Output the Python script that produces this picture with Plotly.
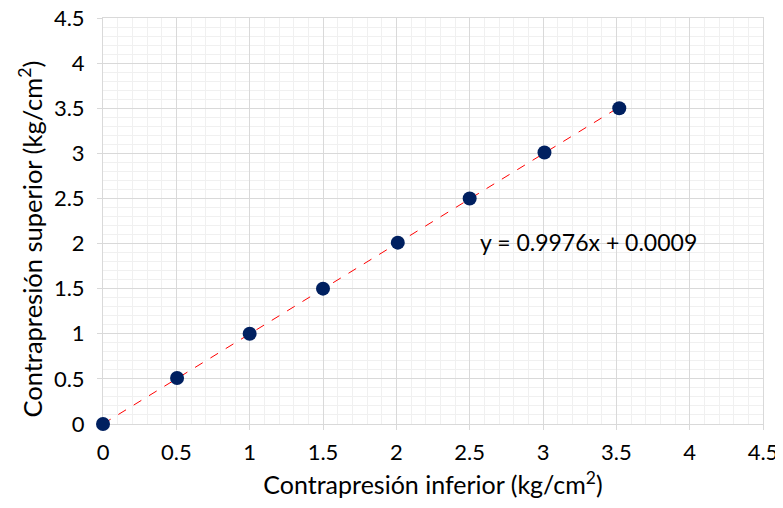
import plotly.graph_objects as go

x_vals = [0.0, 0.505, 1.0, 1.5, 2.01, 2.5, 3.01, 3.52]
y_vals = [0.0, 0.51, 1.0, 1.5, 2.01, 2.5, 3.01, 3.5]
slope = 0.9976
intercept = 0.0009
eq_text = "y = 0.9976x + 0.0009"
x_title = "Contrapresión inferior (kg/cm<sup>2</sup>)"
y_title = "Contrapresión superior (kg/cm<sup>2</sup>)"
tick_vals = [0, 0.5, 1, 1.5, 2, 2.5, 3, 3.5, 4, 4.5]
tick_text = ["0", "0.5", "1", "1.5", "2", "2.5", "3", "3.5", "4", "4.5"]

font_family = "Lato, 'Open Sans', sans-serif"

x_fit = [min(x_vals), max(x_vals)]
y_fit = [slope * v + intercept for v in x_fit]

fig = go.Figure()
fig.add_trace(go.Scatter(x=x_fit, y=y_fit, mode="lines",
                         line=dict(color="#ff0000", width=1, dash="dash"),
                         showlegend=False, hoverinfo="skip", cliponaxis=False))
fig.add_trace(go.Scatter(x=x_vals, y=y_vals, mode="markers",
                         marker=dict(color="#002060", size=14, line=dict(width=0)),
                         showlegend=False, cliponaxis=False))

axis_common = dict(
    range=[0, 4.5], tickvals=tick_vals, ticktext=tick_text,
    showgrid=True, gridcolor="#d9d9d9", gridwidth=1,
    minor=dict(dtick=0.1, showgrid=True, gridcolor="#f0f0f0", gridwidth=1),
    showline=True, linecolor="#d9d9d9", linewidth=1, mirror=True,
    ticks="outside", ticklen=5, tickcolor="#d9d9d9",
    zeroline=False, automargin=False, ticklabeloverflow="allow",
    layer="below traces",
    tickfont=dict(size=22, color="#000000", family=font_family),
)

# the page body adds an 8px offset, so the figure is sized to fit the window
fig.update_layout(
    width=775, height=500,
    margin=dict(l=95, r=20, t=10, b=84),
    plot_bgcolor="white", paper_bgcolor="white",
    xaxis=dict(title=dict(text=x_title, font=dict(size=25, family=font_family, color="#000"), standoff=12),
               ticklabelstandoff=4, **axis_common),
    yaxis=dict(ticklabelstandoff=8, **axis_common),
    annotations=[
        dict(x=2.56, y=2.02, xref="x", yref="y", text=eq_text, showarrow=False,
             xanchor="left", yanchor="middle",
             font=dict(size=23, family=font_family, color="#000")),
        dict(x=-0.111, y=0.456, xref="paper", yref="paper", text=y_title, showarrow=False,
             textangle=-90, xanchor="center", yanchor="middle",
             font=dict(size=25.5, family=font_family, color="#000")),
    ],
)

fig.write_html("out.html")
